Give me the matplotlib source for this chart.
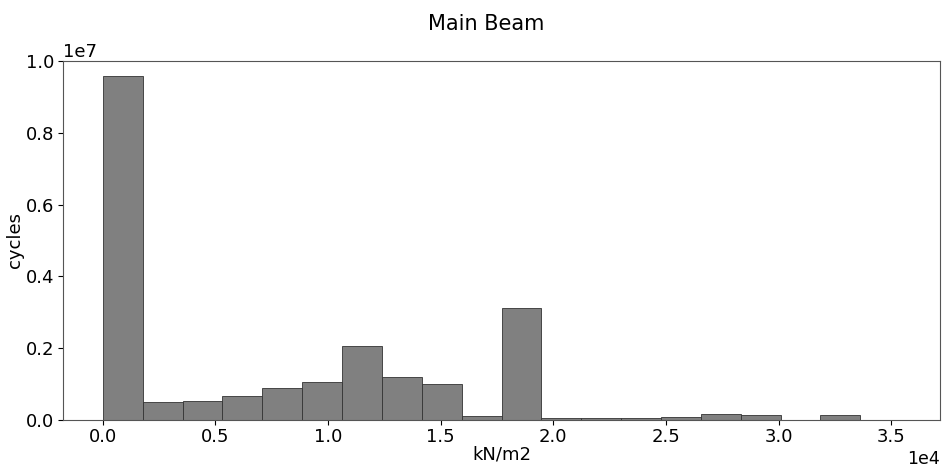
import numpy as np
import matplotlib.pyplot as plt

# stress range histogram, 20 bins of ~1770 kN/m2
bin_edges = np.linspace(0, 35400, 21)
cycles = [9.58e6, 5.0e5, 5.3e5, 6.8e5, 9.0e5, 1.06e6, 2.06e6, 1.21e6, 9.9e5, 1.2e5,
          3.11e6, 4.5e4, 4.5e4, 4.5e4, 8.0e4, 1.6e5, 1.4e5, 0.0, 1.4e5, 0.0]

centers = 0.5 * (bin_edges[:-1] + bin_edges[1:])

fig, ax = plt.subplots(figsize=(9.42, 4.67), dpi=100)
fig.subplots_adjust(left=63/942, right=940/942, top=1-61/467, bottom=1-420/467)

ax.hist(centers, bins=bin_edges, weights=cycles,
        color='gray', edgecolor='#333333', linewidth=0.6)

ax.set_title('Main Beam', fontsize=15, pad=22, x=0.483)
ax.set_xlabel('kN/m2', fontsize=13, labelpad=0)
ax.set_ylabel('cycles', fontsize=13, labelpad=1)
ax.ticklabel_format(axis='x', style='sci', scilimits=(0, 0))
ax.tick_params(labelsize=13)
ax.tick_params(axis='x', pad=2)
ax.tick_params(axis='y', pad=3)
ax.xaxis.get_offset_text().set_fontsize(12.5)
ax.yaxis.get_offset_text().set_fontsize(13)
ax.set_ylim(0, 1.0e7)
for s in ax.spines.values():
    s.set_color('#555555')

plt.savefig('out.png', dpi=100)
